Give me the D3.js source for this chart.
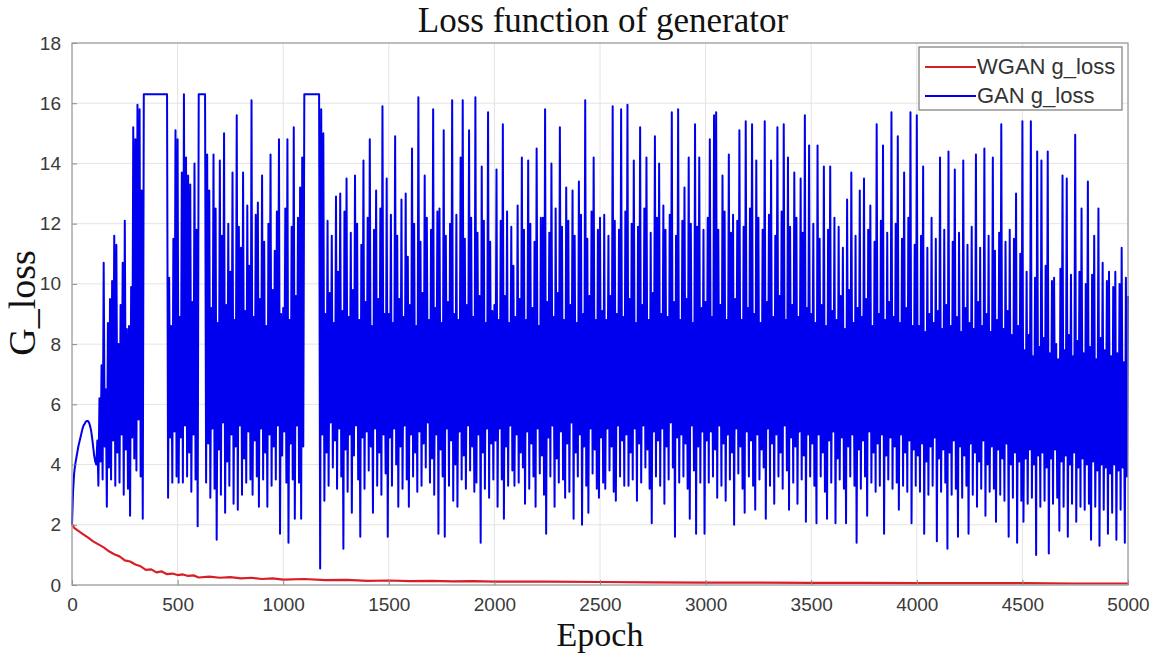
<!DOCTYPE html>
<html>
<head>
<meta charset="utf-8">
<title>Loss function of generator</title>
<script src="https://cdn.jsdelivr.net/npm/d3@7/dist/d3.min.js"></script>
<style>
  body { margin: 0; background: #fff; }
  .tick text { font-family: "Liberation Sans", Arial, sans-serif; font-size: 19px; fill: #3a3a3a; }
  .serif { font-family: "Liberation Serif", "Times New Roman", serif; fill: #111; }
</style>
</head>
<body>
<script>
// GAN g_loss: the top of each swing at epoch 10*i (ganHi),
// the bottom of the swing that follows it at epoch 10*i + 5 (ganLo)
var GAN_STEP = 10;
var ganHi0 = [2.0, 3.7, 4.2, 4.6, 4.9, 5.2, 5.35, 5.45, 5.4, 5.15, 4.6, 4.1, 4.8, 6.2, 7.3, 10.7, 6.5, 8.7, 9.5, 10.1,
  11.6, 11.3, 8.0, 9.3, 10.7, 12.1, 8.5, 8.6, 9.9, 15.2, 14.8, 15.95, 15.8, 13.1, 16.3, 16.3, 16.3, 16.3, 16.3, 16.3,
  16.3, 16.3, 16.3, 16.3, 16.3, 16.3, 10.2, 8.6, 11.5, 15.1];
var ganLo0 = [3.1, 4.0, 4.4, 4.75, 5.05, 5.3, 5.42, 5.45, 5.3, 4.9, 4.3, 4.0, 3.3, 4.1, 3.5, 4.6, 2.6, 3.9, 3.5, 4.8,
  3.3, 4.4, 3.4, 5.0, 3.0, 4.5, 3.2, 2.3, 4.9, 4.2, 3.8, 5.5, 3.6, 2.2, 16.3, 16.3, 16.3, 16.3, 16.3, 16.3,
  16.3, 16.3, 16.3, 16.3, 16.3, 2.9, 4.9, 3.4, 5.1, 3.6];
var ganHi500 = [14.8, 8.9, 13.7, 16.3, 14.2, 13.6, 13.3, 9.4, 14.0, 11.8, 16.3, 16.3, 16.3, 16.3, 14.3, 13.1, 9.2, 14.3, 12.5, 8.7,
  14.1, 11.6, 15.0, 9.3, 12.0, 10.4, 13.7, 8.8, 15.6, 11.9, 11.2, 13.7, 9.1, 12.6, 10.6, 16.1, 8.9, 12.3, 12.7, 9.5,
  13.6, 11.4, 8.6, 12.0, 14.3, 9.8, 11.1, 12.4, 14.8, 9.0];
var ganLo500 = [3.4, 4.9, 3.4, 5.3, 3.6, 4.4, 3.1, 5.0, 3.5, 1.95, 16.3, 16.3, 16.3, 3.4, 4.7, 2.9, 5.2, 3.2, 1.5, 4.5,
  3.0, 5.4, 2.4, 4.1, 3.3, 5.0, 2.7, 4.6, 2.5, 5.3, 3.0, 4.2, 3.4, 5.1, 3.5, 3.0, 4.8, 3.6, 2.6, 5.2,
  3.5, 4.4, 2.6, 5.0, 3.3, 4.6, 3.5, 5.3, 1.7, 4.3];
var ganHi1000 = [9.2, 12.5, 14.8, 8.8, 11.9, 15.2, 9.6, 12.2, 13.2, 14.2, 16.3, 16.3, 16.3, 16.3, 16.3, 16.3, 16.3, 16.3, 15.8, 15.0,
  9.0, 12.1, 9.7, 11.6, 8.7, 12.9, 10.4, 13.0, 9.1, 12.4, 13.5, 8.9, 11.7, 9.8, 13.6, 12.0, 8.8, 11.3, 14.1, 9.4,
  12.2, 14.8, 8.6, 11.8, 13.1, 9.5, 12.5, 15.9, 9.0, 13.5];
var ganLo1000 = [5.1, 3.4, 1.4, 4.7, 3.5, 2.2, 5.3, 3.4, 2.2, 4.6, 16.3, 16.3, 16.3, 16.3, 16.3, 16.3, 16.3, 0.55, 5.0, 2.8,
  4.4, 3.3, 5.4, 3.9, 4.8, 3.2, 5.2, 3.6, 1.2, 4.5, 3.1, 5.0, 2.4, 4.3, 5.3, 3.5, 1.6, 4.9, 3.2, 5.1,
  3.8, 4.6, 2.4, 5.2, 3.3, 4.4, 3.0, 5.0, 3.7, 1.6];
var ganHi1500 = [9.0, 12.3, 8.7, 14.9, 11.6, 9.5, 12.8, 8.9, 13.0, 10.9, 9.3, 14.5, 12.0, 8.6, 16.2, 11.4, 9.7, 13.6, 12.2, 8.8,
  11.8, 15.8, 9.2, 12.4, 12.5, 8.7, 15.1, 11.6, 9.4, 12.0, 16.1, 9.0, 12.3, 8.8, 14.2, 16.1, 11.5, 9.3, 15.1, 12.2,
  8.9, 16.2, 11.7, 9.6, 13.9, 12.1, 8.7, 15.7, 11.4, 9.1];
var ganLo1500 = [4.9, 3.3, 5.2, 4.0, 2.6, 4.6, 3.2, 5.3, 3.5, 2.6, 5.0, 3.6, 4.4, 3.1, 5.1, 3.3, 4.7, 3.9, 5.4, 3.4,
  4.2, 3.0, 5.0, 1.7, 4.5, 3.6, 1.6, 5.2, 3.3, 4.8, 2.8, 4.0, 2.6, 5.1, 3.5, 4.3, 3.2, 5.3, 3.8, 4.6,
  3.1, 3.4, 5.0, 1.4, 4.4, 3.2, 5.2, 2.9, 4.7, 3.5];
var ganHi2000 = [9.3, 13.8, 8.8, 12.1, 15.3, 9.6, 12.4, 8.7, 11.9, 10.6, 8.9, 12.6, 9.5, 14.2, 11.8, 8.8, 14.1, 12.0, 9.2, 11.4,
  14.5, 8.6, 12.2, 12.2, 15.8, 9.4, 11.7, 14.0, 8.9, 12.5, 9.7, 15.2, 11.9, 8.8, 13.2, 12.1, 9.3, 13.1, 11.6, 8.7,
  13.4, 12.3, 9.0, 16.1, 11.5, 9.6, 12.4, 14.2, 8.8, 11.8];
var ganLo2000 = [4.8, 2.6, 5.2, 3.5, 2.2, 4.6, 3.3, 5.3, 3.8, 3.3, 5.0, 3.4, 4.4, 3.9, 2.7, 5.1, 3.2, 4.7, 3.6, 2.6,
  5.2, 3.7, 4.3, 3.0, 1.7, 4.9, 3.6, 5.3, 2.6, 4.2, 3.4, 5.1, 3.5, 2.9, 4.7, 3.1, 5.4, 2.2, 4.4, 3.6,
  5.0, 2.0, 4.6, 3.3, 2.4, 5.2, 3.7, 4.5, 3.2, 2.9];
var ganHi2500 = [12.2, 9.1, 12.3, 8.8, 11.6, 9.6, 15.9, 12.1, 9.0, 11.8, 15.8, 8.9, 12.4, 15.95, 9.5, 12.0, 14.1, 8.7, 11.9, 15.2,
  9.3, 12.5, 14.2, 8.8, 11.7, 9.7, 14.9, 12.2, 14.0, 9.0, 12.6, 11.8, 8.9, 12.3, 15.7, 9.4, 11.6, 15.8, 8.8, 12.1,
  13.2, 9.5, 14.2, 12.0, 8.7, 15.3, 11.9, 14.2, 9.2, 11.8];
var ganLo2500 = [4.9, 3.4, 3.2, 5.2, 3.8, 4.6, 3.1, 2.8, 5.3, 3.6, 4.8, 3.3, 5.0, 3.3, 4.4, 3.5, 5.2, 2.8, 4.7, 3.4,
  5.3, 3.9, 4.5, 3.2, 2.05, 5.1, 3.6, 4.8, 3.3, 5.2, 2.7, 4.6, 3.5, 5.4, 3.9, 1.6, 4.9, 3.4, 5.0, 3.6,
  4.7, 3.2, 2.2, 5.3, 3.8, 1.7, 4.6, 3.4, 5.1, 1.7];
var ganHi3000 = [9.4, 12.2, 14.8, 8.9, 15.6, 15.7, 11.8, 9.3, 13.6, 12.4, 8.8, 14.3, 11.7, 12.3, 9.5, 12.1, 15.1, 8.8, 11.9, 15.4,
  9.2, 12.5, 15.3, 9.0, 14.1, 12.2, 8.7, 11.8, 15.4, 9.4, 12.3, 14.1, 8.9, 11.6, 15.2, 9.6, 12.4, 15.3, 8.8, 14.2,
  11.9, 9.3, 13.7, 12.2, 8.9, 13.5, 11.7, 15.6, 9.2, 14.6];
var ganLo3000 = [4.8, 3.4, 5.1, 3.6, 4.5, 2.9, 5.3, 3.3, 4.7, 2.8, 5.0, 3.5, 4.4, 2.0, 5.2, 3.7, 4.6, 3.2, 2.4, 5.1,
  3.6, 4.8, 3.3, 2.5, 5.0, 3.5, 4.5, 3.9, 2.2, 5.2, 3.3, 4.7, 2.7, 5.0, 3.6, 4.4, 3.2, 5.3, 3.8, 2.5,
  4.9, 3.4, 4.6, 2.7, 5.1, 3.5, 4.3, 2.1, 5.0, 3.6];
var ganHi3500 = [9.0, 12.0, 8.7, 14.6, 11.5, 9.3, 13.9, 8.6, 11.8, 13.9, 9.1, 12.2, 8.8, 11.9, 9.6, 11.2, 8.5, 12.8, 9.8, 13.7,
  8.7, 11.6, 9.2, 13.1, 8.9, 13.5, 9.5, 11.8, 12.6, 8.6, 11.4, 15.3, 9.0, 12.1, 14.6, 8.8, 11.7, 9.4, 15.7, 8.9,
  12.0, 14.9, 8.7, 11.5, 13.7, 9.2, 12.2, 15.7, 8.6, 11.3];
var ganLo3500 = [4.7, 3.3, 2.05, 5.0, 3.6, 4.4, 3.1, 2.2, 4.8, 3.4, 5.1, 2.05, 4.2, 3.5, 4.9, 3.2, 2.05, 4.6, 3.6, 5.0,
  3.3, 1.4, 4.5, 3.2, 4.8, 3.6, 2.3, 5.1, 3.4, 4.4, 3.1, 4.7, 3.3, 5.0, 1.7, 4.3, 3.5, 4.9, 3.2, 4.6,
  3.4, 2.5, 5.0, 3.3, 4.4, 3.1, 4.8, 2.05, 4.5, 3.3];
var ganHi4000 = [15.6, 8.6, 11.6, 13.9, 8.4, 11.2, 9.0, 12.2, 8.7, 11.5, 9.1, 14.2, 8.5, 11.8, 9.3, 14.4, 8.6, 11.4, 13.8, 8.9,
  11.7, 8.4, 14.1, 9.2, 11.3, 8.7, 11.9, 8.5, 14.3, 9.4, 11.2, 8.6, 14.5, 9.0, 11.6, 8.4, 14.2, 11.1, 8.8, 11.7,
  15.3, 8.5, 11.4, 9.1, 11.8, 8.3, 11.5, 13.0, 8.6, 11.0];
var ganLo4000 = [4.3, 3.1, 4.7, 1.7, 4.1, 3.0, 4.6, 3.3, 4.9, 1.45, 4.2, 3.1, 4.5, 3.4, 1.2, 4.4, 3.0, 4.8, 3.2, 1.6,
  4.6, 2.9, 4.3, 3.3, 1.7, 4.7, 3.0, 4.4, 2.6, 4.1, 3.2, 4.8, 2.3, 4.0, 3.1, 4.6, 3.2, 2.1, 4.5, 3.0,
  4.2, 2.8, 4.7, 1.6, 4.0, 2.9, 4.4, 1.4, 4.1, 2.8];
var ganHi4500 = [15.4, 7.8, 10.4, 8.3, 15.4, 7.6, 10.2, 14.4, 7.9, 14.1, 8.2, 10.6, 14.4, 7.7, 10.1, 10.2, 8.0, 7.5, 10.5, 13.6,
  7.8, 13.5, 8.3, 10.3, 7.6, 14.95, 8.1, 10.4, 12.5, 7.7, 10.0, 13.4, 7.9, 10.3, 11.6, 7.5, 12.5, 8.2, 10.7, 7.8,
  10.1, 10.4, 7.6, 9.9, 10.4, 7.7, 10.0, 11.2, 7.4, 10.2, 9.6];
var ganLo4500 = [2.1, 4.2, 2.7, 4.5, 2.9, 4.0, 1.0, 4.3, 2.6, 4.4, 2.8, 3.9, 1.05, 4.2, 2.7, 4.5, 2.9, 1.8, 4.1, 2.6,
  4.3, 1.6, 4.0, 2.7, 4.4, 2.1, 3.9, 2.6, 4.2, 2.5, 4.0, 2.7, 1.5, 4.1, 2.6, 3.8, 1.3, 4.0, 2.5, 3.9,
  1.7, 3.7, 2.4, 4.0, 1.5, 3.8, 2.5, 3.9, 1.4, 3.6];

// WGAN g_loss
var wganEpoch = [0, 10, 25, 50, 75, 100, 125, 150, 175, 200, 225, 250, 275, 300, 325, 350, 375, 400,
  425, 450, 475, 500, 525, 550, 575, 600, 650, 700, 750, 800, 850, 900, 950, 1000, 1100, 1200,
  1300, 1400, 1500, 1600, 1700, 1800, 1900, 2000, 2250, 2500, 2750, 3000, 3250, 3500, 3750,
  4000, 4250, 4500, 4750, 5000];
var wganLoss = [2.02, 1.9, 1.82, 1.7, 1.58, 1.45, 1.35, 1.25, 1.12, 1.02, 0.95, 0.82, 0.78, 0.68,
  0.62, 0.5, 0.52, 0.42, 0.45, 0.36, 0.38, 0.33, 0.35, 0.3, 0.32, 0.25, 0.28, 0.24, 0.26, 0.22,
  0.24, 0.2, 0.22, 0.18, 0.2, 0.16, 0.17, 0.14, 0.15, 0.13, 0.14, 0.12, 0.13, 0.11, 0.11, 0.1,
  0.09, 0.08, 0.08, 0.07, 0.07, 0.06, 0.06, 0.06, 0.05, 0.05];

var xTicks = [0, 500, 1000, 1500, 2000, 2500, 3000, 3500, 4000, 4500, 5000];
var yTicks = [0, 2, 4, 6, 8, 10, 12, 14, 16, 18];
var seriesNames = ["WGAN g_loss", "GAN g_loss"];
var seriesColors = ["#d81f27", "#0000ee"];

var W = 1151, H = 654;
var margin = {top: 43, right: 23, bottom: 69, left: 72};
var width = W - margin.left - margin.right;
var height = H - margin.top - margin.bottom;

var ganHi = [].concat(ganHi0, ganHi500, ganHi1000, ganHi1500, ganHi2000,
  ganHi2500, ganHi3000, ganHi3500, ganHi4000, ganHi4500);
var ganLo = [].concat(ganLo0, ganLo500, ganLo1000, ganLo1500, ganLo2000,
  ganLo2500, ganLo3000, ganLo3500, ganLo4000, ganLo4500);
var ganData = [];
ganHi.forEach(function(v, i) {
  ganData.push({x: i * GAN_STEP, y: v});
  if (i < ganLo.length) ganData.push({x: i * GAN_STEP + GAN_STEP / 2, y: ganLo[i]});
});
var wganData = wganEpoch.map(function(e, i) { return {x: e, y: wganLoss[i]}; });

var xScale = d3.scaleLinear().domain([0, 5000]).range([0, width]);
var yScale = d3.scaleLinear().domain([0, 18]).range([height, 0]);

var svg = d3.select("body").append("svg")
  .attr("width", W).attr("height", H);
var g = svg.append("g")
  .attr("transform", "translate(" + margin.left + "," + margin.top + ")");

// grid
g.append("g").selectAll("line").data(xTicks).enter().append("line")
  .attr("x1", function(d) { return xScale(d); }).attr("x2", function(d) { return xScale(d); })
  .attr("y1", 0).attr("y2", height)
  .attr("stroke", "#e4e4e4").attr("stroke-width", 1);
g.append("g").selectAll("line").data(yTicks).enter().append("line")
  .attr("y1", function(d) { return yScale(d); }).attr("y2", function(d) { return yScale(d); })
  .attr("x1", 0).attr("x2", width)
  .attr("stroke", "#e4e4e4").attr("stroke-width", 1);

var line = d3.line()
  .x(function(d) { return xScale(d.x); })
  .y(function(d) { return yScale(d.y); });

g.append("path").datum(ganData)
  .attr("d", line).attr("fill", "none")
  .attr("stroke", seriesColors[1]).attr("stroke-width", 2)
  .attr("stroke-linejoin", "round");

g.append("path").datum(wganData)
  .attr("d", line).attr("fill", "none")
  .attr("stroke", seriesColors[0]).attr("stroke-width", 2.2)
  .attr("stroke-linejoin", "round");

// axes
var xAxis = g.append("g").attr("transform", "translate(0," + height + ")")
  .call(d3.axisBottom(xScale).tickValues(xTicks).tickFormat(d3.format("d")).tickSize(5).tickPadding(8));
var yAxis = g.append("g")
  .call(d3.axisLeft(yScale).tickValues(yTicks).tickFormat(d3.format("d")).tickSize(5).tickPadding(6));
[xAxis, yAxis].forEach(function(a) {
  a.select(".domain").remove();
  a.selectAll(".tick line").attr("stroke", "#8a8a8a");
});
xAxis.selectAll(".tick line").attr("y2", -5);
yAxis.selectAll(".tick line").attr("x2", 5);

// frame
g.append("rect").attr("width", width).attr("height", height)
  .attr("fill", "none").attr("stroke", "#9a9a9a").attr("stroke-width", 1.2);

// titles
svg.append("text").attr("class", "serif")
  .attr("x", 603).attr("y", 32).attr("text-anchor", "middle")
  .style("font-size", "35px").text("Loss function of generator");
svg.append("text").attr("class", "serif")
  .attr("x", 600).attr("y", 646).attr("text-anchor", "middle")
  .style("font-size", "34px").text("Epoch");
svg.append("text").attr("class", "serif")
  .attr("transform", "translate(35,303) rotate(-90)").attr("text-anchor", "middle")
  .style("font-size", "38px").text("G_loss");

// legend
var legend = svg.append("g").attr("transform", "translate(" + (margin.left + width - 209) + "," + (margin.top + 4) + ")");
legend.append("rect").attr("width", 203).attr("height", 63)
  .attr("fill", "#fff").attr("stroke", "#7a7a7a").attr("stroke-width", 1.2);
seriesNames.forEach(function(name, i) {
  var ly = 20 + i * 29;
  legend.append("line").attr("x1", 6).attr("x2", 57).attr("y1", ly).attr("y2", ly)
    .attr("stroke", seriesColors[i]).attr("stroke-width", 2);
  legend.append("text").attr("x", 58).attr("y", ly + 7)
    .style("font-family", "'Liberation Sans', Arial, sans-serif").style("font-size", "22px")
    .style("fill", "#333").text(name);
});
</script>
</body>
</html>
